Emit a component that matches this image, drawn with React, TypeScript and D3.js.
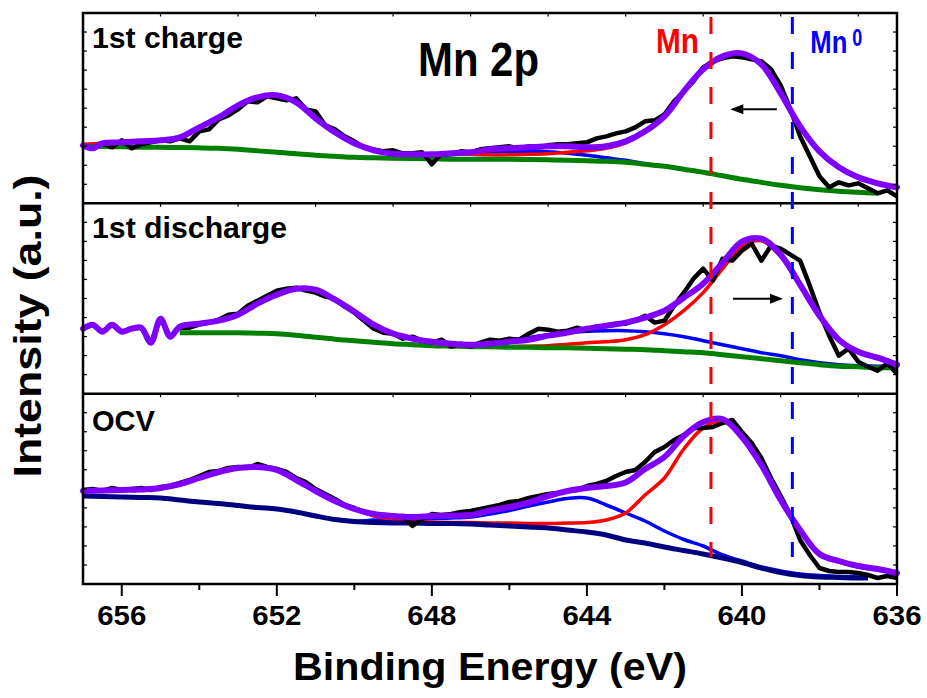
import React from 'react';
import * as d3 from 'd3';

// ---------- data ----------
const fitEnergy = [657, 656.5, 656, 655.5, 655, 654.5, 654, 653.5, 653, 652.5, 652, 651.5, 651, 650.5, 650, 649.5, 649, 648.5, 648, 647.5, 647, 646.5, 646, 645.5, 645, 644.5, 644, 643.5, 643, 642.5, 642, 641.5, 641, 640.5, 640, 639.5, 639, 638.5, 638, 637.5, 637, 636.5, 636];

const rawEnergy = [657, 656.75, 656.5, 656.25, 656, 655.75, 655.5, 655.25, 655, 654.75, 654.5, 654.25, 654, 653.75, 653.5, 653.25, 653, 652.75, 652.5, 652.25, 652, 651.75, 651.5, 651.25, 651, 650.75, 650.5, 650.25, 650, 649.75, 649.5, 649.25, 649, 648.75, 648.5, 648.25, 648, 647.75, 647.5, 647.25, 647, 646.75, 646.5, 646.25, 646, 645.75, 645.5, 645.25, 645, 644.75, 644.5, 644.25, 644, 643.75, 643.5, 643.25, 643, 642.75, 642.5, 642.25, 642, 641.75, 641.5, 641.25, 641, 640.75, 640.5, 640.25, 640, 639.75, 639.5, 639.25, 639, 638.75, 638.5, 638.25, 638, 637.75, 637.5, 637.25, 637, 636.75, 636.5, 636.25, 636];

// 1st charge
const chargeRaw = [58, 55, 60, 56, 63, 55, 59, 61, 63, 62, 65, 62, 72, 74, 84, 88, 94, 102, 101, 107, 105, 103, 105, 94, 92, 78, 74, 67, 62, 56, 54, 52, 53, 50, 50, 51, 39, 50, 50, 52, 51, 54, 55, 56, 57, 55, 57, 56, 58, 59, 59, 60, 61, 65, 67, 70, 72, 76, 82, 83, 89, 102, 112, 122, 136, 142, 145, 147, 146, 144, 142, 134, 118, 94, 67, 47, 27, 16, 21, 18, 20, 15, 10, 13, 7];
const chargeEnvelope = [59, 60, 61, 62, 63, 66, 76, 86, 98, 106, 108, 101, 85, 71, 60, 53, 49.5, 49, 49, 50, 51, 54, 55, 56, 57, 57, 56, 57, 62, 72, 87, 112, 134, 147, 150, 139, 110, 77, 52, 36, 26, 20, 16];
const chargeMn = [59, 60, 61, 62, 63, 66, 76, 86, 98, 106, 108, 101, 85, 71, 60, 53, 49.5, 49, 49, 49.5, 49, 48.5, 48.5, 49, 49.5, 51, 52.5, 55, 60.5, 71, 87, 112, 134, 147, 150, 139, 110, 77, 52, 36, 26, 20, 16];
const chargeSat = [57, 56.8, 56.5, 56.2, 56, 55.8, 55.5, 55, 54, 52.5, 51, 49.5, 48, 47, 46, 45.5, 45.5, 46, 47, 48.5, 50, 51, 52, 52, 51.5, 50, 48, 45.5, 43, 39.5, 37, 34, 31, 27.5, 24, 21, 18, 15.5, 13.5, 12, 11, 10, null];
const chargeBg = [57, 56.8, 56.5, 56.2, 56, 55.8, 55.5, 55, 54, 52.5, 51, 49.5, 48, 47, 46, 45.5, 45, 44.8, 44.5, 44.2, 44, 44, 44, 43.8, 43.5, 43, 42.5, 42, 41, 39, 37, 34, 31, 27.5, 24, 21, 18, 15.5, 13.5, 12, 11, 10, null];

// 1st discharge
const dischargeRaw = [65, 69, 62, 69, 62, 65, 66, 51, 75, 57, 66, 66, 69, 71, 74, 79, 80, 88, 93, 98, 103, 105, 106, 103, 101, 97, 95, 87, 81, 73, 65, 61, 60, 55, 57, 53, 51, 54, 47, 50, 47, 51, 54, 53, 55, 54, 60, 65, 64, 62, 63, 66, 63, 67, 68, 70, 70, 73, 78, 71, 73, 88, 101, 115, 125, 113, 135, 133, 143, 150, 133, 148, 145, 139, 133, 108, 81, 58, 38, 45, 32, 27, 23, 30, 20];
const dischargeEnvelope = [null, null, null, null, null, 67, 70, 73, 79, 90, 99, 105, 104, 94, 82, 69, 60, 55, 52, 50, 49, 50, 52, 54, 58, 61, 65, 68, 71, 76, 83, 96, 110, 131, 152, 155, 139, 109, 78, 54, 42, 36, 29];
const dischargeMn = [null, null, null, null, null, 67, 70, 73, 79, 90, 99, 105, 104, 94, 82, 69, 60, 54, 50, 48, 47, 47, 47, 47.5, 48, 49.5, 51, 52, 54, 59, 69, 83, 101, 125, 147, 153, 137, 108, 77, 53, 41, 35, 29];
const dischargeSat = [null, null, null, null, null, 61, 61, 61, 61, 60.5, 60, 58.5, 56.5, 54.5, 53, 51.5, 50, 49.5, 49, 49, 49, 51, 53.5, 56, 59, 61, 62.5, 63, 63, 62, 60, 57, 53, 49, 45, 41, 38, 34, 31, 29, 28, 27.5, 27];
const dischargeBg = [null, null, null, null, null, 61, 61, 61, 61, 60.5, 60, 58.5, 56.5, 54.5, 53, 51.5, 50, 49, 48, 47.5, 47, 47, 46.5, 46.5, 46, 46, 45.5, 45, 44.5, 44, 43, 42, 41, 39, 37, 35, 33, 31, 29, 27.5, 27, 26, 26];

// OCV
const ocvRaw = [94, 95, 93, 96, 94, 95, 96, 94, 97, 98, 101, 104, 108, 112, 113, 116, 117, 116, 120, 117, 115, 112, 106, 102, 95, 90, 85, 79, 76, 72, 70, 69, 67, 68, 58, 65, 70, 69, 70, 72, 73, 75, 77, 79, 82, 83, 86, 88, 90, 91, 93, 94, 98, 100, 103, 108, 112, 114, 122, 132, 137, 144, 149, 156, 156, 157, 161, 164, 152, 141, 126, 106, 88, 69, 44, 29, 16, 13, 12, 12, 11, 9, 6, 8, 6];
const ocvEnvelope = [93, 93.5, 94, 94.5, 96, 100, 106, 112, 116, 117, 114, 104, 93, 83, 75, 70, 68, 67, 68, 68.5, 69, 73.5, 77, 81.5, 88, 93, 96, 98, 101.5, 115, 127, 148, 162, 165, 147, 119, 84, 54, 30, 23, 18, 15, 11];
const ocvMn = [93, 93.5, 94, 94.5, 96, 100, 106, 112, 116, 117, 114, 104, 93, 83, 75, 68, 65, 63, 62, 61.5, 61.5, 61, 61, 60.5, 60.5, 61, 61.5, 64, 71, 89, 106, 135, 156, 163, 146, 118, 83, 53, 29, 22, 17, 14, null];
const ocvSat = [88, 87.5, 87, 86.5, 86, 84, 82, 80.5, 78.5, 76.5, 75, 72, 68, 64.5, 62.5, 64, 64.5, 65, 65.5, 66, 67, 70, 73.5, 78, 82, 85.5, 86, 79, 71, 63, 53, 44.5, 38, 29, 23, 17, 13, 10, 8.5, 7.5, 7, 6.5, null];
const ocvBg = [88, 87.5, 87, 86.5, 86, 84, 82, 80.5, 78.5, 76.5, 75, 72, 68, 64.5, 62.5, 61.5, 61, 61, 60.5, 60.5, 60, 59, 58, 57, 56, 54, 52, 49, 44, 41, 37, 33.5, 30, 26, 21.5, 16, 11.5, 8.5, 7, 6.5, 6, 6, null];

const panelLabels = ['1st charge', '1st discharge', 'OCV'];
const componentEnd = [636, 636, 636.75];
const majorTicks = [656, 652, 648, 644, 640, 636];
const minorTicks = [654, 650, 646, 642, 638];
const panelTopTicks = [655, 653, 651, 649, 647, 645, 643, 641, 639, 637];
const refEnergies = [640.8, 638.7];
const refNames = ['Mn', 'Mn'];
const refSups = ['', '0'];
const arrowFrom = [639.1, 640.23];
const arrowTo = [640.3, 638.94];
const arrowLevel = [94, 95];

// ---------- styles ----------
const FONT = "'Liberation Sans', Arial, Helvetica, sans-serif";
const C_RAW = '#000000';
const C_ENV = '#8000ff';
const C_MN = '#ff0000';
const C_SAT = '#0000ff';
const C_BG = ['#008000', '#008000', '#000080'];
const REF_COLORS = ['#ff0000', '#0000ff'];

const W = 927, H = 698;
const L = 83, R = 897, T = 13, B = 584;

type Pt = [number, number | null];

export default function App() {
  const x = d3.scaleLinear().domain([657, 636]).range([L, R]);
  const ph = (B - T) / 3;

  const panels = [
    { raw: chargeRaw, env: chargeEnvelope, mn: chargeMn, sat: chargeSat, bg: chargeBg, fitStart: 656.5, labelDy: 35, labelLen: 151 },
    { raw: dischargeRaw, env: dischargeEnvelope, mn: dischargeMn, sat: dischargeSat, bg: dischargeBg, fitStart: 654.5, labelDy: 35, labelLen: 195 },
    { raw: ocvRaw, env: ocvEnvelope, mn: ocvMn, sat: ocvSat, bg: ocvBg, fitStart: 657, labelDy: 37.5, labelLen: 63 },
  ];

  const zip = (es: number[], vs: (number | null)[]): Pt[] => es.map((e, i) => [e, vs[i]]);

  return (
    <svg width={W} height={H} style={{ position: 'absolute', left: 0, top: 0, background: '#fff' }} fontFamily={FONT}>
      <rect x={0} y={0} width={W} height={H} fill="#fff" />
      <defs>
        {componentEnd.map((e, k) => (
          <clipPath id={`comp-clip-${k}`} key={k}>
            <rect x={L} y={0} width={x(e) - L} height={H} />
          </clipPath>
        ))}
      </defs>
      {panels.map((p, k) => {
        const top = T + k * ph;
        const bot = top + ph;
        const y = d3.scaleLinear().domain([0, ph]).range([bot, top]);
        const smooth = d3.line<Pt>().defined(d => d[1] != null).x(d => x(d[0])).y(d => y(d[1] as number)).curve(d3.curveCatmullRom.alpha(0.5));
        const linear = d3.line<Pt>().defined(d => d[1] != null).x(d => x(d[0])).y(d => y(d[1] as number));
        const rawPts = zip(rawEnergy, p.raw);
        const envPts: Pt[] = [
          ...rawPts.filter(d => d[0] > p.fitStart),
          ...zip(fitEnergy, p.env).filter(d => d[0] <= p.fitStart && d[1] != null),
        ];
        return (
          <g key={k}>
            <g clipPath={`url(#comp-clip-${k})`}>
              <path d={smooth(zip(fitEnergy, p.sat)) || ''} fill="none" stroke={C_SAT} strokeWidth={3.5} strokeLinejoin="round" />
              <path d={smooth(zip(fitEnergy, p.mn)) || ''} fill="none" stroke={C_MN} strokeWidth={3.5} strokeLinejoin="round" />
              <path d={smooth(zip(fitEnergy, p.bg)) || ''} fill="none" stroke={C_BG[k]} strokeWidth={5} strokeLinejoin="round" />
            </g>
            <path d={linear(rawPts) || ''} fill="none" stroke={C_RAW} strokeWidth={4.5} strokeLinejoin="round" />
            <path d={smooth(envPts) || ''} fill="none" stroke={C_ENV} strokeWidth={6} strokeLinejoin="round" strokeLinecap="round" />
            <text x={92} y={top + p.labelDy} fontSize={30} fontWeight="bold" textLength={p.labelLen} lengthAdjust="spacingAndGlyphs">{panelLabels[k]}</text>
            {d3.range(1, 10).map(j => (
              <g key={j}>
                <line x1={L} x2={L + 4} y1={top + (j * ph) / 10} y2={top + (j * ph) / 10} stroke="#000" strokeWidth={1.2} />
                <line x1={R - 4} x2={R} y1={top + (j * ph) / 10} y2={top + (j * ph) / 10} stroke="#000" strokeWidth={1.2} />
              </g>
            ))}
            {panelTopTicks.map(e => (
              <line key={e} x1={x(e)} x2={x(e)} y1={top} y2={top + 3.5} stroke="#000" strokeWidth={1.2} />
            ))}
            {k > 0 && <line x1={L} x2={R} y1={top} y2={top} stroke="#000" strokeWidth={2.5} />}
          </g>
        );
      })}

      {/* reference dashed lines */}
      {refEnergies.map((e, i) => (
        <line key={i} x1={x(e)} x2={x(e)} y1={T + 4} y2={B - 27} stroke={REF_COLORS[i]} strokeWidth={3} strokeDasharray="17 18" />
      ))}
      <text x={x(refEnergies[0]) - 12} y={53} fill={REF_COLORS[0]} fontSize={35} fontWeight="bold" textAnchor="end" textLength={43} lengthAdjust="spacingAndGlyphs">{refNames[0]}</text>
      <text x={x(refEnergies[1]) + 18} y={53} fill={REF_COLORS[1]} fontSize={32} fontWeight="bold" textLength={37} lengthAdjust="spacingAndGlyphs">{refNames[1]}</text>
      <text x={x(refEnergies[1]) + 60} y={46} fill={REF_COLORS[1]} fontSize={24} fontWeight="bold" textLength={10} lengthAdjust="spacingAndGlyphs">{refSups[1]}</text>

      {/* arrows */}
      {arrowFrom.map((f, i) => {
        const yy = T + (i + 1) * ph - arrowLevel[i];
        const x1 = x(f), x2 = x(arrowTo[i]);
        const dir = x2 > x1 ? 1 : -1;
        return (
          <g key={i}>
            <line x1={x1} x2={x2 - dir * 10} y1={yy} y2={yy} stroke="#000" strokeWidth={2} />
            <path d={`M${x2},${yy} L${x2 - dir * 13},${yy - 5} L${x2 - dir * 13},${yy + 5} Z`} fill="#000" />
          </g>
        );
      })}

      {/* title */}
      <text x={418} y={76} fontSize={48} fontWeight="bold" textLength={121} lengthAdjust="spacingAndGlyphs">Mn 2p</text>

      {/* frame */}
      <rect x={L} y={T} width={R - L} height={B - T} fill="none" stroke="#000" strokeWidth={2.5} />

      {/* x axis */}
      {majorTicks.map(e => (
        <g key={e}>
          <line x1={x(e)} x2={x(e)} y1={B} y2={B + 12} stroke="#000" strokeWidth={2} />
          <text x={x(e)} y={625} fontSize={28} fontWeight="bold" textAnchor="middle" textLength={49} lengthAdjust="spacingAndGlyphs">{e}</text>
        </g>
      ))}
      {minorTicks.map(e => (
        <line key={e} x1={x(e)} x2={x(e)} y1={B} y2={B + 6} stroke="#000" strokeWidth={2} />
      ))}
      <text x={293} y={680} fontSize={38} fontWeight="bold" textLength={394} lengthAdjust="spacingAndGlyphs">Binding Energy (eV)</text>
      <text transform="translate(41,326) rotate(-90)" fontSize={38} fontWeight="bold" textAnchor="middle" textLength={303} lengthAdjust="spacingAndGlyphs">Intensity (a.u.)</text>
    </svg>
  );
}
